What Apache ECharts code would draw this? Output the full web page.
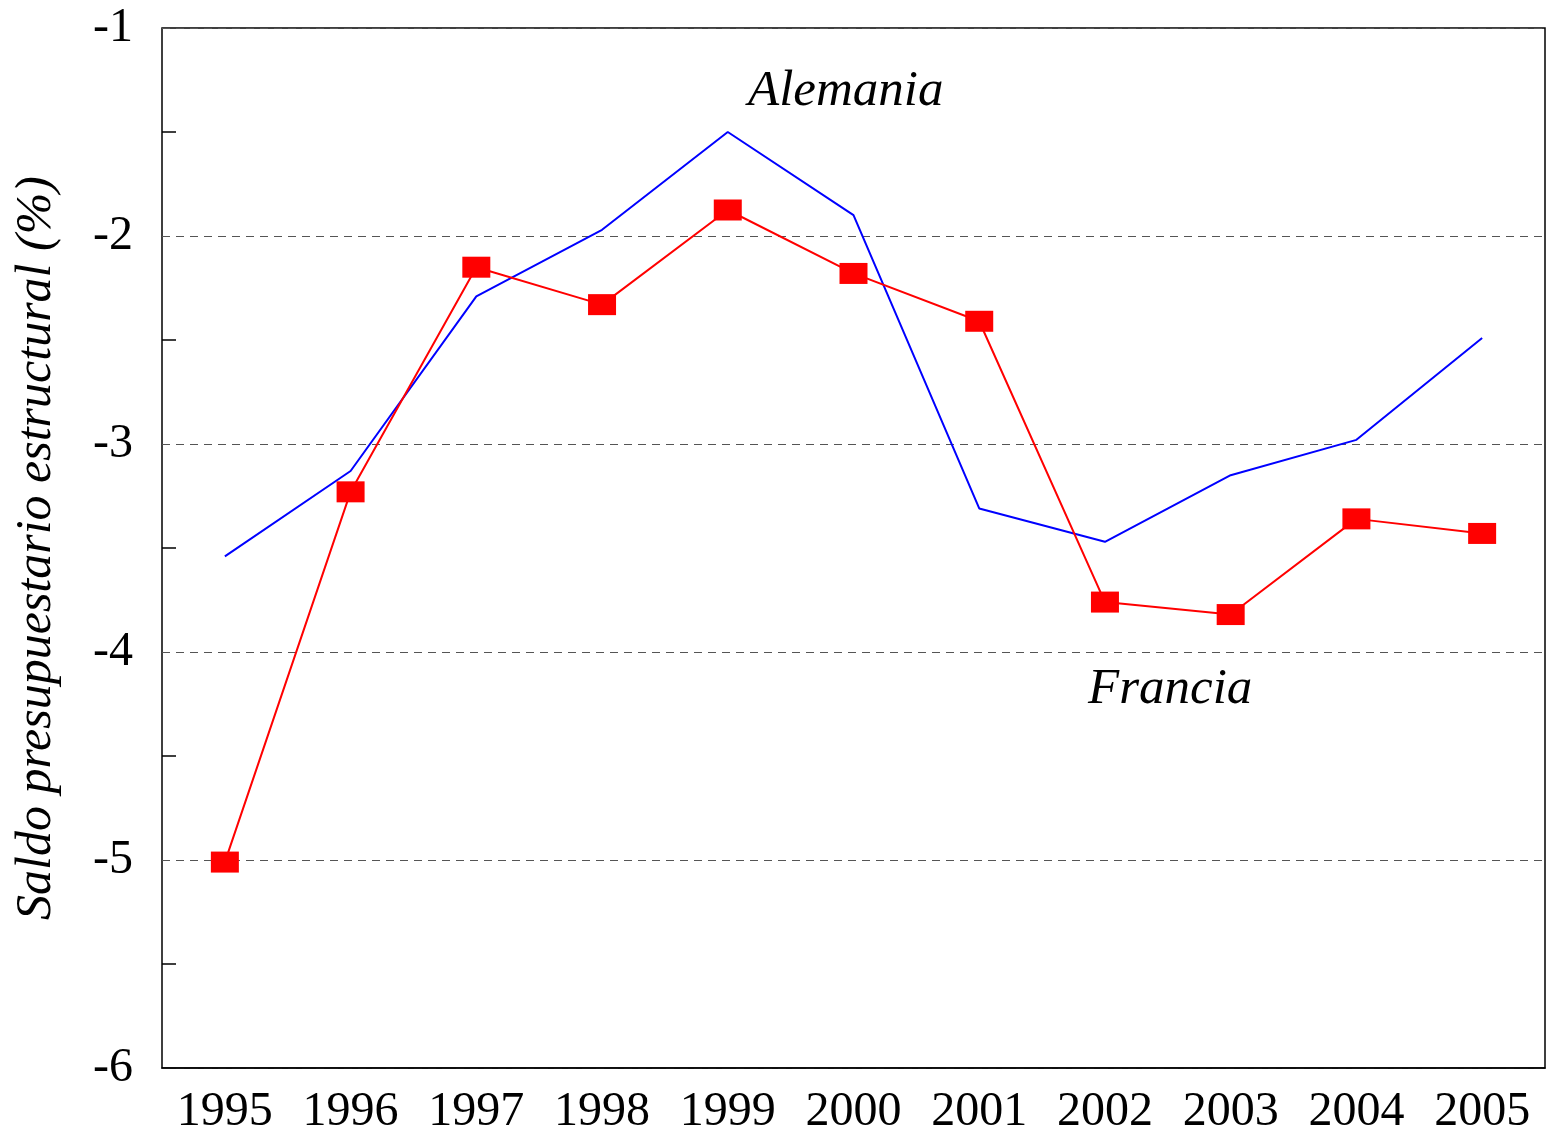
<!DOCTYPE html>
<html>
<head>
<meta charset="utf-8">
<script src="https://cdn.jsdelivr.net/npm/echarts@6/dist/echarts.min.js"></script>
<style>
  html, body { margin: 0; padding: 0; background: #fff; }
  #chart { width: 1547px; height: 1138px; }
</style>
</head>
<body>
<div id="chart"></div>
<script>
const years = ['1995', '1996', '1997', '1998', '1999', '2000', '2001', '2002', '2003', '2004', '2005']
const alemania = [-3.54, -3.13, -2.29, -1.97, -1.50, -1.90, -3.31, -3.47, -3.15, -2.98, -2.49]
const francia = [-5.01, -3.23, -2.15, -2.33, -1.875, -2.18, -2.41, -3.76, -3.82, -3.36, -3.43]

const serif = '"Liberation Serif", "Times New Roman", serif'

const chart = echarts.init(document.getElementById('chart'))

chart.setOption({
  animation: false,
  grid: {
    left: 162,
    right: 2,
    top: 28,
    bottom: 70,
    outerBoundsMode: 'none',
    containLabel: false,
    show: true,
    borderColor: '#000',
    borderWidth: 1.5
  },
  xAxis: {
    type: 'category',
    data: years,
    boundaryGap: true,
    axisLine: { lineStyle: { color: '#000', width: 1.5 } },
    axisTick: { inside: true, length: 15, alignWithLabel: true, lineStyle: { color: '#000', width: 1.5 } },
    axisLabel: { color: '#000', fontFamily: serif, fontSize: 48, margin: 20 },
    splitLine: { show: false }
  },
  yAxis: {
    type: 'value',
    min: -6,
    max: -1,
    interval: 1,
    name: 'Saldo presupuestario estructural (%)',
    nameLocation: 'middle',
    nameGap: 100,
    nameTextStyle: { color: '#000', fontFamily: serif, fontStyle: 'italic', fontSize: 50 },
    axisLine: { lineStyle: { color: '#000', width: 1.5 } },
    axisTick: { inside: true, length: 20, lineStyle: { color: '#000', width: 1.5 } },
    minorTick: { show: true, splitNumber: 2, length: 14, lineStyle: { color: '#000', width: 1.5 } },
    axisLabel: { color: '#000', fontFamily: serif, fontSize: 48, margin: 29 },
    splitLine: { show: true, lineStyle: { color: '#555', type: [8, 6], width: 1.2 } }
  },
  graphic: [
    { type: 'text', left: 748, top: 66, style: { text: 'Alemania', fontFamily: serif, fontStyle: 'italic', fontSize: 51, fill: '#000' } },
    { type: 'text', left: 1088, top: 664, style: { text: 'Francia', fontFamily: serif, fontStyle: 'italic', fontSize: 51, fill: '#000' } }
  ],
  series: [
    {
      name: 'Alemania',
      type: 'line',
      data: alemania,
      showSymbol: false,
      symbol: 'none',
      lineStyle: { color: '#0000ff', width: 2 },
      itemStyle: { color: '#0000ff' },
      z: 3
    },
    {
      name: 'Francia',
      type: 'line',
      data: francia,
      symbol: 'rect',
      symbolSize: [28, 21],
      lineStyle: { color: '#ff0000', width: 2 },
      itemStyle: { color: '#ff0000' },
      z: 4
    }
  ]
})
</script>
</body>
</html>
